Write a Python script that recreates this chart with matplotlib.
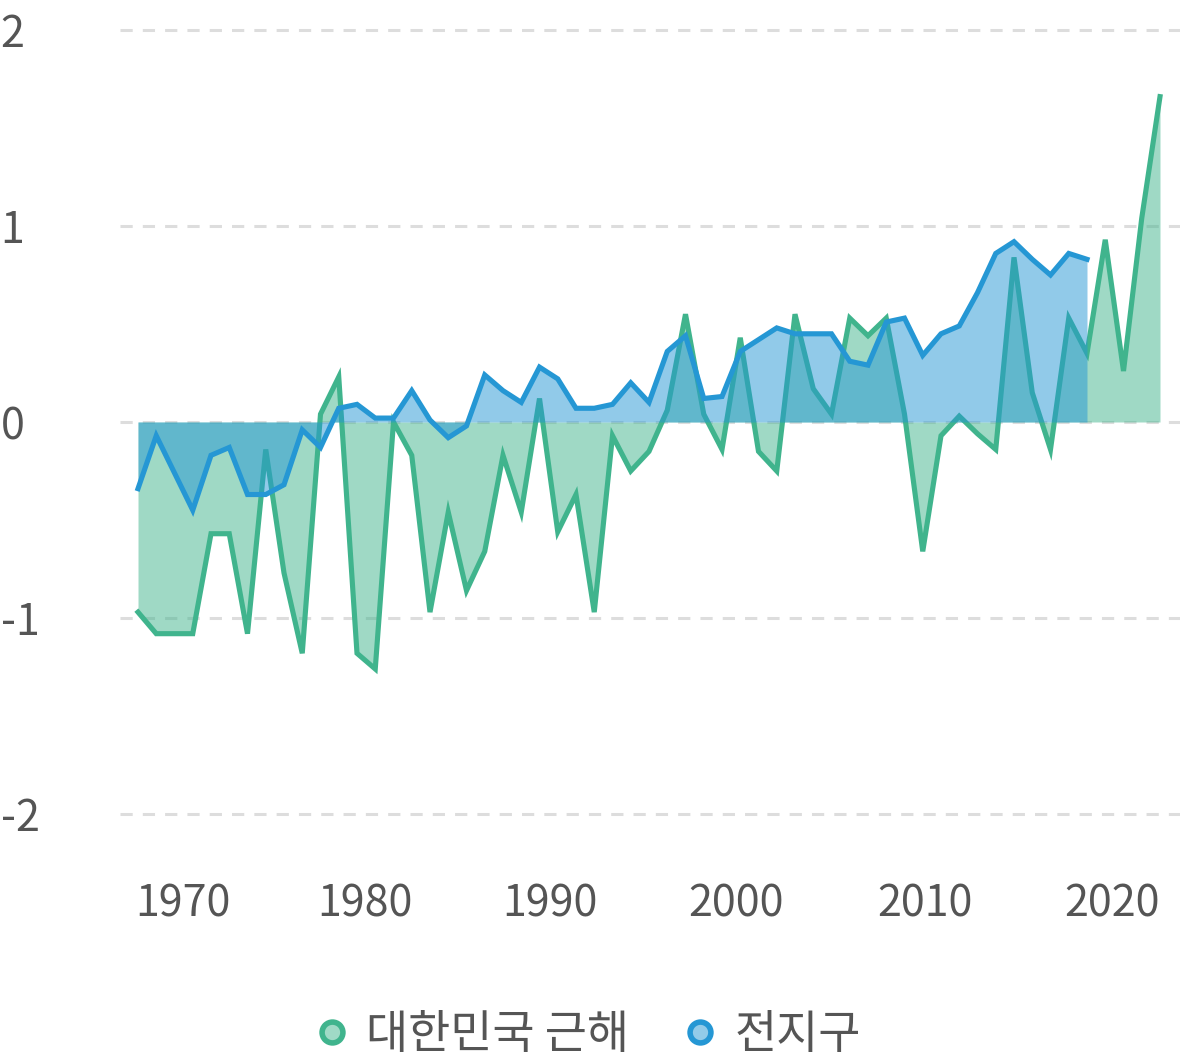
import matplotlib
matplotlib.use("Agg")
import matplotlib.pyplot as plt
from matplotlib.lines import Line2D
import numpy as np

plt.rcParams['font.family'] = ['Noto Sans CJK KR', 'DejaVu Sans']
plt.rcParams['axes.unicode_minus'] = False

# 해수면 온도 편차 (°C)
years_kr = list(range(1968, 2025))
korea = [-0.97, -1.08, -1.08, -1.08, -0.57, -0.57, -1.08, -0.14, -0.77, -1.18,
         0.04, 0.23, -1.18, -1.26, 0.0, -0.17, -0.97, -0.46, -0.86, -0.66,
         -0.17, -0.46, 0.12, -0.56, -0.37, -0.97, -0.07, -0.25, -0.15, 0.06,
         0.55, 0.04, -0.14, 0.43, -0.15, -0.25, 0.55, 0.17, 0.04, 0.53,
         0.44, 0.53, 0.04, -0.66, -0.07, 0.03, -0.06, -0.14, 0.84, 0.15,
         -0.14, 0.53, 0.35, 0.93, 0.26, 1.04, 1.66]

years_gl = list(range(1968, 2021))
globe = [-0.34, -0.07, -0.26, -0.45, -0.17, -0.13, -0.37, -0.37, -0.32, -0.04,
         -0.13, 0.07, 0.09, 0.02, 0.02, 0.16, 0.01, -0.08, -0.02, 0.24,
         0.16, 0.10, 0.28, 0.22, 0.07, 0.07, 0.09, 0.20, 0.10, 0.36,
         0.44, 0.12, 0.13, 0.36, 0.42, 0.48, 0.45, 0.45, 0.45, 0.31,
         0.29, 0.51, 0.53, 0.34, 0.45, 0.49, 0.66, 0.86, 0.92, 0.83,
         0.75, 0.86, 0.83]

labels = ['대한민국 근해', '전지구']
yticks = [-2, -1, 0, 1, 2]
xtick_labels = ['1970', '1980', '1990', '2000', '2010', '2020']
xtick_pos = [1970.47, 1980.44, 1990.58, 2000.77, 2011.12, 2021.37]

green = '#40b48d'
blue = '#2597d4'
text_c = '#555555'

fig = plt.figure(figsize=(11.8, 10.64), dpi=100)
W, H = 1180, 1064
top_px, bot_px = 30 - 0.1 * 196, 814 + 0.1 * 196
ax = fig.add_axes([120 / W, 1 - bot_px / H, 1 - 120 / W, (bot_px - top_px) / H])

ax.fill_between(years_kr, korea, 0, color=green, alpha=0.5, lw=0, zorder=1)
ax.plot(years_kr, korea, color=green, lw=3.7, solid_joinstyle='miter', zorder=2)
ax.fill_between(years_gl, globe, 0, color=blue, alpha=0.5, lw=0, zorder=3)
ax.plot(years_gl, globe, color=blue, lw=3.7, solid_joinstyle='miter', zorder=4)

ax.set_xlim(1968 - 18 / 18.25, 1968 + 1042 / 18.25)
ax.set_ylim(-2.1, 2.1)

for v in yticks:
    ax.axhline(v, color='#dddddd', lw=2.2, ls=(0, (4, 3.3)), zorder=0)

for s in ax.spines.values():
    s.set_visible(False)

ax.set_yticks(yticks)
ax.set_yticklabels([str(v) for v in yticks], ha='left')
ax.tick_params(axis='y', length=0, pad=86, labelsize=31, labelcolor=text_c)
ax.set_xticks(xtick_pos)
ax.set_xticklabels(xtick_labels)
ax.tick_params(axis='x', length=0, pad=35.5, labelsize=31, labelcolor=text_c)

handles = [Line2D([], [], ls='none', marker='o', markersize=15, markeredgewidth=4,
                  markeredgecolor=c, markerfacecolor=f)
           for c, f in [(green, '#a0dac6'), (blue, '#92cbe9')]]
fig.legend(handles, labels, loc='center', bbox_to_anchor=(0.4958, 1 - 1035 / H),
           ncol=2, frameon=False, fontsize=33, labelcolor=text_c,
           handletextpad=0.25, columnspacing=1.05, handlelength=1.0)

fig.savefig('out.png', dpi=100)
